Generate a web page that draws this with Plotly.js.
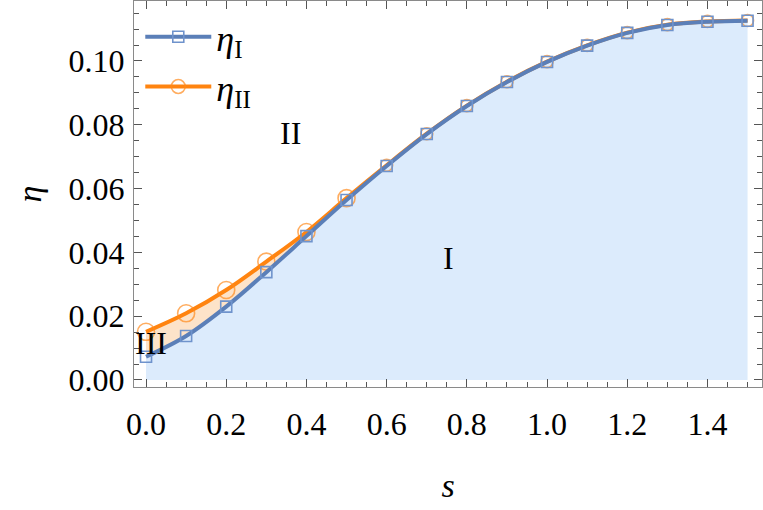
<!DOCTYPE html>
<html>
<head>
<meta charset="utf-8">
<script src="https://cdn.plot.ly/plotly-3.0.1.min.js"></script>
<style>body{margin:0;background:#fff}</style>
</head>
<body>
<div id="plot" style="width:763px;height:510px"></div>
<script>
var s = [0, 0.1, 0.2, 0.3, 0.4, 0.5, 0.6, 0.7, 0.8, 0.9, 1.0, 1.1, 1.2, 1.3, 1.4, 1.5];
var etaI = [0.0073, 0.0138, 0.0230, 0.0338, 0.0451, 0.0564, 0.0671, 0.0771, 0.0859, 0.0934, 0.0997, 0.1048, 0.1088, 0.1113, 0.1123, 0.1126];
var etaII = [0.0151, 0.0209, 0.0282, 0.0371, 0.0464, 0.0570, 0.0673, 0.0772, 0.0860, 0.0935, 0.0998, 0.1049, 0.1089, 0.1114, 0.1124, 0.1127];
var xTicks = [0, 0.2, 0.4, 0.6, 0.8, 1.0, 1.2, 1.4];
var xTickText = ['0.0', '0.2', '0.4', '0.6', '0.8', '1.0', '1.2', '1.4'];
var yTicks = [0, 0.02, 0.04, 0.06, 0.08, 0.1];
var yTickText = ['0.00', '0.02', '0.04', '0.06', '0.08', '0.10'];

var blue = '#5b7fb8';
var orange = '#ff8410';
var serif = 'Liberation Serif';

// circles mostly hidden where the two curves coincide
var circleSize = etaII.map(function (v, i) { return v - etaI[i] > 0.0004 ? 17 : 12; });

var data = [
  {x: s, y: etaI, mode: 'lines', line: {width: 0, shape: 'spline'},
   fill: 'tozeroy', fillcolor: '#dcebfc', showlegend: false, hoverinfo: 'skip'},
  {x: s, y: etaII, mode: 'lines', line: {width: 0, shape: 'spline'},
   fill: 'tonexty', fillcolor: '#fde3c9', showlegend: false, hoverinfo: 'skip'},
  {x: s, y: etaII, mode: 'lines+markers', name: '<i>η</i><sub>II</sub>', legendrank: 2,
   line: {color: orange, width: 4, shape: 'spline'},
   marker: {symbol: 'circle-open', size: circleSize, color: '#ff8a1c', line: {width: 1.6}}},
  {x: s, y: etaI, mode: 'lines+markers', name: '<i>η</i><sub>I</sub>', legendrank: 1,
   line: {color: blue, width: 4, shape: 'spline'},
   marker: {symbol: 'square-open', size: 11, color: '#6f93cc', line: {width: 1.6}}}
];

function axis(extra) {
  var a = {
    showgrid: false, zeroline: false, showline: true, linecolor: '#8a8a8a', linewidth: 1.2,
    mirror: 'allticks', ticks: 'inside', ticklen: 8, tickwidth: 1.2, tickcolor: '#555',
    tickfont: {family: serif, size: 32, color: '#000'}
  };
  for (var k in extra) a[k] = extra[k];
  return a;
}

var layout = {
  width: 763, height: 510,
  font: {family: serif, color: '#000'},
  margin: {l: 134, r: 1, t: 1, b: 123},
  paper_bgcolor: '#fff', plot_bgcolor: '#fff',
  xaxis: axis({
    range: [-0.03, 1.536], tickvals: xTicks, ticktext: xTickText, ticklabelstandoff: 8,
    minor: {dtick: 0.05, tick0: 0, ticks: 'inside', ticklen: 5, tickcolor: '#555', tickwidth: 1},
    title: {text: '<i>s</i>', font: {family: serif, size: 34, color: '#000'}, standoff: 32}
  }),
  yaxis: axis({
    range: [-0.0022, 0.1188], tickvals: yTicks, ticktext: yTickText, ticklabelstandoff: 2,
    minor: {dtick: 0.005, tick0: 0, ticks: 'inside', ticklen: 5, tickcolor: '#555', tickwidth: 1},
    title: {text: '<i>η</i>', font: {family: serif, size: 34, color: '#000'}, standoff: 16}
  }),
  legend: {x: 0.01, y: 0.985, xanchor: 'left', yanchor: 'top', bgcolor: 'rgba(0,0,0,0)',
    font: {family: serif, size: 36, color: '#000'}, traceorder: 'normal', tracegroupgap: 0,
    itemwidth: 66},
  annotations: [
    {x: 0.36, y: 0.0774, text: 'II', showarrow: false, font: {family: serif, size: 32, color: '#000'}},
    {x: 0.755, y: 0.0382, text: 'I', showarrow: false, font: {family: serif, size: 32, color: '#000'}},
    {x: 0.012, y: 0.0115, text: 'III', showarrow: false, font: {family: serif, size: 32, color: '#000'}}
  ]
};

Plotly.newPlot('plot', data, layout, {displayModeBar: false});
</script>
</body>
</html>
